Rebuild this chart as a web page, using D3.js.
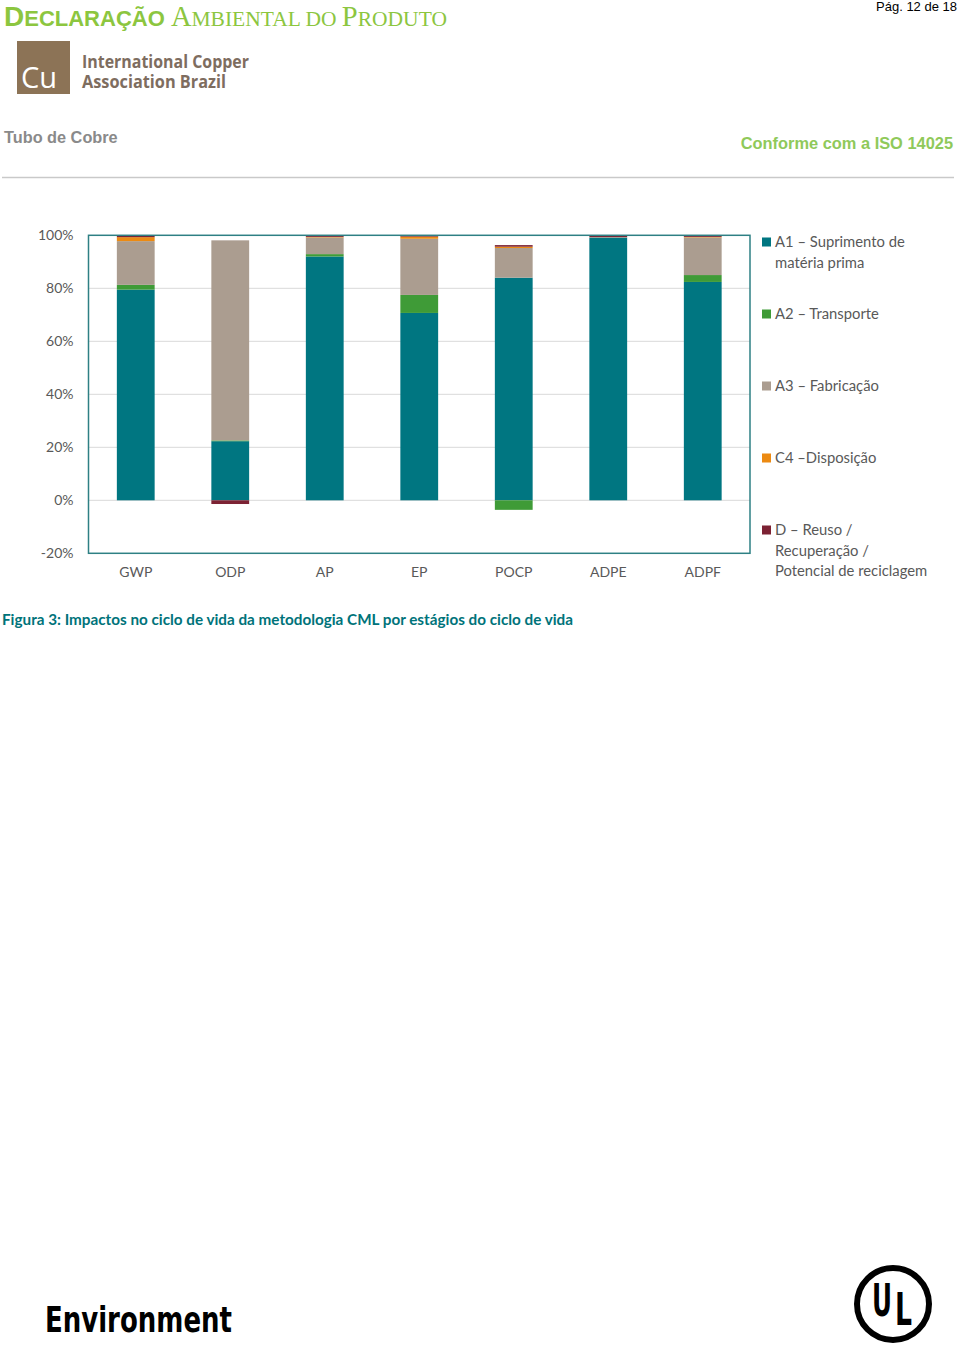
<!DOCTYPE html>
<html>
<head>
<meta charset="utf-8">
<script src="https://cdn.jsdelivr.net/npm/d3@7"></script>
<style>
html,body{margin:0;padding:0;background:#fff;}
svg{display:block;}
</style>
</head>
<body>
<svg id="page" width="960" height="1347"></svg>
<script>
const categories = ["GWP","ODP","AP","EP","POCP","ADPE","ADPF"];
const A1 = [79.5, 22.3, 92.0, 70.7, 84.0, 99.1, 82.4];
const A2 = [1.8, 0.3, 0.9, 6.8, -3.6, 0.05, 2.6];
const A3 = [16.5, 75.5, 6.3, 21.2, 11.2, 0.15, 14.2];
const C4 = [1.5, 0, 0.2, 0.8, 0.5, 0, 0.2];
const D  = [0.7, -1.4, 0.6, 0.3, 0.6, 0.7, 0.6];
const seriesKeys = ["A1","A2","A3","C4","D"];
const seriesValues = {A1, A2, A3, C4, D};
const legendLabels = [
  ["A1 – Suprimento de","matéria prima"],
  ["A2 – Transporte"],
  ["A3 – Fabricação"],
  ["C4 –Disposição"],
  ["D – Reuso /","Recuperação /","Potencial de reciclagem"]
];
const yTicks = [-20, 0, 20, 40, 60, 80, 100];
const colors = {A1:"#007681", A2:"#3f9b37", A3:"#ab9d90", C4:"#ec8a12", D:"#7c2233"};

const svg = d3.select("#page");

// ---------- Header ----------
const green = "#8cc63f";
const h = svg.append("text").attr("x", 4).attr("y", 26).attr("fill", green);
h.append("tspan").attr("font-family","Liberation Sans, Arial, sans-serif").attr("font-weight","bold").attr("font-size",28).text("D");
h.append("tspan").attr("font-family","Liberation Sans, Arial, sans-serif").attr("font-weight","bold").attr("font-size",22).text("ECLARAÇÃO ");
const serif = "Liberation Serif, Times New Roman, serif";
[["A",28.5],["MBIENTAL DO ",21.5],["P",28.5],["RODUTO",21.5]].forEach(([t,s])=>{
  h.append("tspan").attr("font-family",serif).attr("font-size",s).text(t);
});

svg.append("text").attr("x",957).attr("y",11).attr("text-anchor","end")
  .attr("font-family","Liberation Sans, Arial, sans-serif").attr("font-size",13).attr("fill","#000")
  .text("Pág. 12 de 18");

// logo
svg.append("rect").attr("x",17).attr("y",41).attr("width",53).attr("height",53).attr("fill","#8c7356");
svg.append("text").attr("x",21).attr("y",88).attr("font-family","Open Sans, sans-serif").attr("font-size",29)
  .attr("fill","#fff").text("Cu");
svg.append("text").attr("x",82).attr("y",68).attr("font-family","Open Sans, sans-serif").attr("font-weight",700)
  .attr("font-size",17).attr("fill","#7e6d5f").attr("textLength",167).attr("lengthAdjust","spacingAndGlyphs")
  .text("International Copper");
svg.append("text").attr("x",82).attr("y",88).attr("font-family","Open Sans, sans-serif").attr("font-weight",700)
  .attr("font-size",17).attr("fill","#7e6d5f").attr("textLength",144).attr("lengthAdjust","spacingAndGlyphs")
  .text("Association Brazil");

svg.append("text").attr("x",4).attr("y",143).attr("font-family","Liberation Sans, Arial, sans-serif")
  .attr("font-weight","bold").attr("font-size",16.3).attr("fill","#8a8a8a").text("Tubo de Cobre");
svg.append("text").attr("x",953).attr("y",149).attr("text-anchor","end").attr("font-family","Liberation Sans, Arial, sans-serif")
  .attr("font-weight","bold").attr("font-size",16.4).attr("fill","#8fc95a").text("Conforme com a ISO 14025");
svg.append("line").attr("x1",2).attr("x2",954).attr("y1",177.5).attr("y2",177.5).attr("stroke","#c9c9c9").attr("stroke-width",1.5);

// ---------- Chart ----------
const plot = {left:88.5, right:750, top:235.3, bottom:553.3};
const x = d3.scaleBand().domain(categories).range([plot.left, plot.right]).paddingInner(0.6).paddingOuter(0.3);
const y = d3.scaleLinear().domain([-20, 100]).range([plot.bottom, plot.top]);

const rows = categories.map((c,i)=>{
  const r = {cat:c};
  seriesKeys.forEach(k=> r[k] = seriesValues[k][i]);
  return r;
});
const stacked = d3.stack().keys(seriesKeys).offset(d3.stackOffsetDiverging)(rows);

const chartFont = "Lato, 'Open Sans', sans-serif";
const g = svg.append("g");

// gridlines
g.append("g").selectAll("line").data(yTicks.filter(t=>t>-20 && t<100)).join("line")
  .attr("x1",plot.left).attr("x2",plot.right)
  .attr("y1",d=>y(d)).attr("y2",d=>y(d))
  .attr("stroke","#d9d9d9").attr("stroke-width",1);

// bars
g.append("g").selectAll("g").data(stacked).join("g")
  .attr("fill",d=>colors[d.key])
  .selectAll("rect").data(d=>d).join("rect")
  .attr("x",d=>x(d.data.cat))
  .attr("width",x.bandwidth())
  .attr("y",d=>y(Math.max(d[0],d[1])))
  .attr("height",d=>Math.abs(y(d[0])-y(d[1])));

// plot border
g.append("rect").attr("x",plot.left).attr("y",plot.top)
  .attr("width",plot.right-plot.left).attr("height",plot.bottom-plot.top)
  .attr("fill","none").attr("stroke","#2e8084").attr("stroke-width",1.5);

// y axis labels
const yAxis = d3.axisLeft(y).tickValues(yTicks).tickFormat(d=>d+"%").tickSize(0).tickPadding(15);
const ya = g.append("g").attr("transform",`translate(${plot.left},0)`).call(yAxis);
ya.select(".domain").remove();
ya.selectAll("text").attr("font-family",chartFont).attr("font-size",14).attr("fill","#595959");

// x axis labels
const xAxis = d3.axisBottom(x).tickSize(0).tickPadding(14);
const xa = g.append("g").attr("transform",`translate(0,${plot.bottom})`).call(xAxis);
xa.select(".domain").remove();
xa.selectAll("text").attr("font-family",chartFont).attr("font-size",14).attr("fill","#595959");

// legend
const legendY = [242, 314, 386, 458, 530];
const lg = g.append("g");
seriesKeys.forEach((k,i)=>{
  lg.append("rect").attr("x",762).attr("y",legendY[i]-4.5).attr("width",9).attr("height",9).attr("fill",colors[k]);
  legendLabels[i].forEach((t,j)=>{
    lg.append("text").attr("x",775).attr("y",legendY[i]+j*20.5).attr("dy","0.35em")
      .attr("font-family",chartFont).attr("font-size",14.8).attr("fill","#595959").text(t);
  });
});

// caption
svg.append("text").attr("x",2).attr("y",625).attr("font-family",chartFont).attr("font-weight","bold")
  .attr("font-size",14.5).attr("fill","#00737a").attr("textLength",571).attr("lengthAdjust","spacingAndGlyphs")
  .text("Figura 3: Impactos no ciclo de vida da metodologia CML por estágios do ciclo de vida");

// ---------- Footer ----------
svg.append("text").attr("x",45).attr("y",1332).attr("font-family","'Liberation Sans Narrow', 'DejaVu Sans Condensed', sans-serif")
  .attr("font-weight","bold").attr("font-size",36).attr("fill","#000")
  .attr("textLength",187).attr("lengthAdjust","spacingAndGlyphs").text("Environment");

const ul = svg.append("g");
ul.append("ellipse").attr("cx",893).attr("cy",1304).attr("rx",36).attr("ry",36).attr("fill","none")
  .attr("stroke","#000").attr("stroke-width",6);
ul.append("text").attr("x",872).attr("y",1316).attr("font-family","'Liberation Sans Narrow', 'DejaVu Sans Condensed', sans-serif")
  .attr("font-weight","bold").attr("font-size",44).attr("fill","#000").attr("textLength",20).attr("lengthAdjust","spacingAndGlyphs").text("U");
ul.append("text").attr("x",895).attr("y",1325).attr("font-family","'Liberation Sans Narrow', 'DejaVu Sans Condensed', sans-serif")
  .attr("font-weight","bold").attr("font-size",44).attr("fill","#000").attr("textLength",17).attr("lengthAdjust","spacingAndGlyphs").text("L");
</script>
</body>
</html>
